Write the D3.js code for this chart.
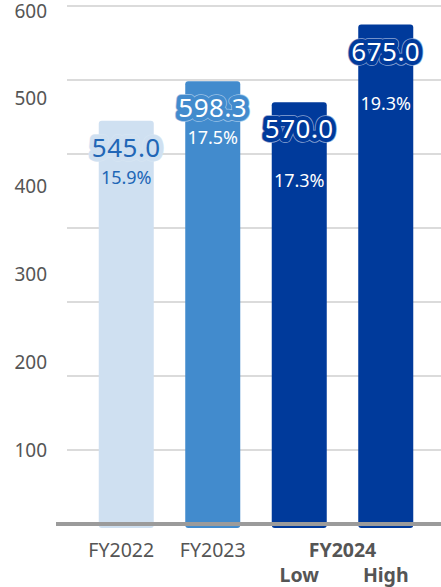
<!DOCTYPE html>
<html>
<head>
<meta charset="utf-8">
<script src="https://cdn.jsdelivr.net/npm/d3@7"></script>
<style>
  html, body { margin: 0; padding: 0; background: #fff; }
  svg { display: block; font-family: "Noto Sans", "Open Sans", sans-serif; }
</style>
</head>
<body>
<svg id="chart" width="441" height="587"></svg>
<script>
// chart data
const categories = ['FY2022', 'FY2023', 'FY2024 Low', 'FY2024 High'];
const values = [545.0, 598.3, 570.0, 675.0];
const margins = ['15.9%', '17.5%', '17.3%', '19.3%'];
const yearLabels = ['FY2022', 'FY2023', 'FY2024'];
const subLabels = ['', '', 'Low', 'High'];
const tickLabels = [100, 200, 300, 400, 500, 600];
const gridValues = [100, 200, 300, 400, 500, 600, 700];

const barColors = ['#cfe0f1', '#428bcd', '#003a9b', '#003a9b'];
const edgeColors = ['#d6e5f3', '#9cc3e8', '#8aa3d3', '#8aa3d3'];
const textColors = ['#2166b6', '#ffffff', '#ffffff', '#ffffff'];

const width = 441;

const svg = d3.select('#chart');

const y = d3.scaleLinear().domain([0, 700]).range([524, 6]);
const x = d3.scaleBand()
  .domain(categories)
  .range([83, 429])
  .paddingInner(0.364)
  .paddingOuter(0.182);

// tick labels are evenly spread, not on the gridlines
const labelY = d3.scaleLinear()
  .domain([100, 600])
  .range([y(100), y(700) + 5]);

// gridlines
svg.append('g')
  .selectAll('line')
  .data(gridValues)
  .enter()
  .append('line')
  .attr('x1', 67)
  .attr('x2', width)
  .attr('y1', (d) => y(d))
  .attr('y2', (d) => y(d))
  .attr('stroke', '#cfcfcf')
  .attr('stroke-width', 1.5);

svg.append('g')
  .selectAll('text')
  .data(tickLabels)
  .enter()
  .append('text')
  .attr('x', 47)
  .attr('y', (d) => labelY(d))
  .attr('dy', '0.35em')
  .attr('text-anchor', 'end')
  .attr('font-size', 19)
  .attr('fill', '#555')
  .text((d) => d);

// bars
const data = categories.map((c, i) => ({
  cat: c, value: values[i], margin: margins[i], i
}));

svg.append('g')
  .selectAll('rect')
  .data(data)
  .enter()
  .append('rect')
  .attr('x', (d) => x(d.cat))
  .attr('y', (d) => y(d.value))
  .attr('width', x.bandwidth())
  .attr('height', (d) => y(0) - y(d.value) + 4)
  .attr('rx', 3)
  .attr('fill', (d) => barColors[d.i]);

// baseline
svg.append('line')
  .attr('x1', 56)
  .attr('x2', width)
  .attr('y1', y(0))
  .attr('y2', y(0))
  .attr('stroke', '#9b9b9b')
  .attr('stroke-width', 4);

// value labels with halo
const labels = svg.append('g')
  .attr('text-anchor', 'middle');

labels.selectAll('text.edge')
  .data(data)
  .enter()
  .append('text')
  .attr('class', 'edge')
  .attr('x', (d) => x(d.cat) + x.bandwidth() / 2)
  .attr('y', (d) => y(d.value) + 36)
  .attr('font-size', 26)
  .attr('letter-spacing', 0.5)
  .attr('fill', 'none')
  .attr('stroke', (d) => edgeColors[d.i])
  .attr('stroke-width', 9.5)
  .attr('stroke-linejoin', 'round')
  .text((d) => d.value.toFixed(1));

labels.selectAll('text.value')
  .data(data)
  .enter()
  .append('text')
  .attr('class', 'value')
  .attr('x', (d) => x(d.cat) + x.bandwidth() / 2)
  .attr('y', (d) => y(d.value) + 36)
  .attr('font-size', 26)
  .attr('letter-spacing', 0.5)
  .attr('fill', (d) => textColors[d.i])
  .attr('stroke', (d) => barColors[d.i])
  .attr('stroke-width', 8)
  .attr('stroke-linejoin', 'round')
  .attr('paint-order', 'stroke')
  .text((d) => d.value.toFixed(1));

labels.selectAll('text.margin')
  .data(data)
  .enter()
  .append('text')
  .attr('class', 'margin')
  .attr('x', (d) => x(d.cat) + x.bandwidth() / 2)
  .attr('y', (d) => y(d.value) + (d.i < 2 ? 63 : 85))
  .attr('font-size', 18)
  .attr('fill', (d) => textColors[d.i])
  .text((d) => d.margin);

// x labels
const xl = svg.append('g')
  .attr('text-anchor', 'middle')
  .attr('font-size', 19.5)
  .attr('fill', '#555');

xl.selectAll('text.year')
  .data(yearLabels)
  .enter()
  .append('text')
  .attr('class', 'year')
  .attr('x', (d, i) => i < 2
    ? x(categories[i]) + x.bandwidth() / 2 - (i === 0 ? 5 : 0)
    : (x(categories[2]) + x(categories[3]) + x.bandwidth()) / 2)
  .attr('y', 557)
  .attr('font-weight', (d, i) => i === 2 ? 'bold' : 'normal')
  .text((d) => d);

xl.selectAll('text.sub')
  .data(data.filter((d) => subLabels[d.i]))
  .enter()
  .append('text')
  .attr('class', 'sub')
  .attr('x', (d) => x(d.cat) + x.bandwidth() / 2)
  .attr('y', 582)
  .attr('font-weight', 'bold')
  .text((d) => subLabels[d.i]);
</script>
</body>
</html>
